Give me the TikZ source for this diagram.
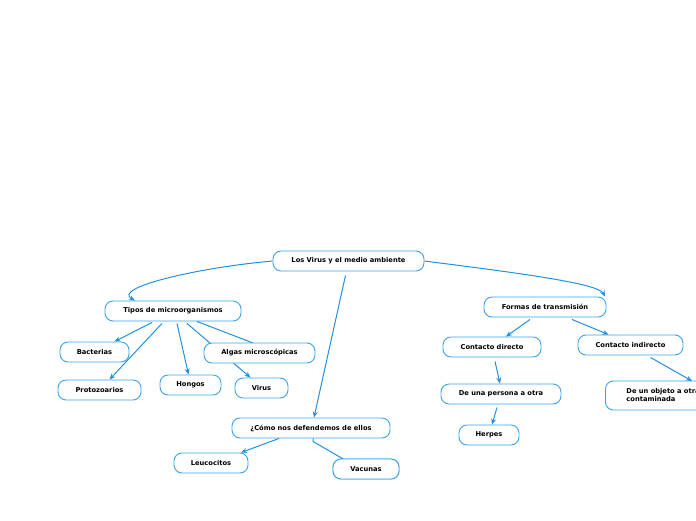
\documentclass[tikz,border=0pt]{standalone}
\usepackage{fontspec}
\setmainfont{DejaVu Sans}
\usetikzlibrary{arrows.meta}
\definecolor{lineblue}{HTML}{2391DA}
\definecolor{boxblue}{HTML}{3BA3EA}
\tikzset{
  box/.style={draw=boxblue, line width=0.9pt, rounded corners=8pt, fill=white,
    minimum height=20pt, inner sep=0pt, align=center,
    font=\fontsize{6.7}{8.2}\selectfont\bfseries, text=black},
  link/.style={draw=lineblue, line width=1pt, -{Stealth[length=6pt,width=5pt]}},
  plain/.style={draw=lineblue, line width=1pt},
}
\begin{document}
\begin{tikzpicture}[x=1pt,y=-1pt]
\useasboundingbox (0,0) rectangle (696,520);
\clip (0,0) rectangle (696,520);
\node[box, minimum width=151pt] (root) at (348.5,261) {Los Virus y el medio ambiente};
\node[box, minimum width=136pt] (tipos) at (173,311) {Tipos de microorganismos};
\node[box, minimum width=69pt] (bact) at (94.5,352) {Bacterias};
\node[box, minimum width=83pt] (proto) at (99.5,390) {Protozoarios};
\node[box, minimum width=61pt] (hongos) at (190.5,385) {Hongos};
\node[box, minimum width=53pt] (virus) at (261.5,388) {Virus};
\node[box, minimum width=158pt] (como) at (311,428) {¿Cómo nos defendemos de ellos};
\node[box, minimum width=74pt] (leuco) at (211,463) {Leucocitos};
\node[box, minimum width=66pt] (vac) at (366,469) {Vacunas};
\node[box, minimum width=122pt] (formas) at (545,307) {Formas de transmisión};
\node[box, minimum width=98pt] (cdir) at (492,347) {Contacto directo};
\node[box, minimum width=105pt] (cind) at (630.5,345) {Contacto indirecto};
\node[box, minimum width=120pt] (pers) at (501,394) {De una persona a otra};
\node[box, minimum width=60pt] (herpes) at (489,435) {Herpes};
% connectors
\draw[link] (root.west) .. controls (195,268) and (112,288) .. ([xshift=-38pt]tipos.north);
\draw[link] (root.east) .. controls (510,272) and (598,283) .. ([xshift=60pt]formas.north);
\draw[link] ([xshift=-3pt]root.south) ++(0,4) -- ([xshift=3pt]como.north);
\draw[link] ([xshift=-21pt]tipos.south) ++(0,1) -- ([xshift=20pt]bact.north);
\draw[link] ([xshift=-11pt]tipos.south) ++(0,2) -- ([xshift=10pt]proto.north);
\draw[link] ([xshift=4pt]tipos.south) ++(0,2) -- ([xshift=-2pt]hongos.north);
\draw[link] ([xshift=14pt]tipos.south) ++(0,2) -- ([xshift=-11pt]virus.north);
\draw[link] ([xshift=-32pt]como.south) -- ([xshift=30pt]leuco.north);
\draw[link] ([xshift=-15pt]formas.south) ++(0,2) -- ([xshift=14pt]cdir.north);
\draw[link] ([xshift=27pt]formas.south) ++(0,2) -- ([xshift=-22pt]cind.north);
\draw[link] ([xshift=3pt]cdir.south) ++(0,4) -- ([xshift=-1pt]pers.north);
\draw[link] ([xshift=-4pt]pers.south) ++(0,3) -- ([xshift=3pt]herpes.north);
\node[box, minimum width=96pt, minimum height=29pt, align=left, anchor=west] (obj) at (605,395.5)
  {\hspace*{21pt}\begin{tabular}{@{}l@{}}De un objeto a otra\\contaminada\end{tabular}\hspace*{20pt}};
\draw[link] ([xshift=20pt]cind.south) ++(0,2) -- (692,381);
% lines that end behind boxes
\draw[plain] ([xshift=24pt]tipos.south) -- (253,343);
\draw[plain] ([xshift=2pt]como.south) -- ++(0,3) -- (345,460);
% boxes drawn on top of the lines that pass behind them
\node[box, minimum width=111pt] (algas) at (259.5,353) {Algas microscópicas};
\node[box, minimum width=66pt] at (vac) {Vacunas};
\end{tikzpicture}
\end{document}
